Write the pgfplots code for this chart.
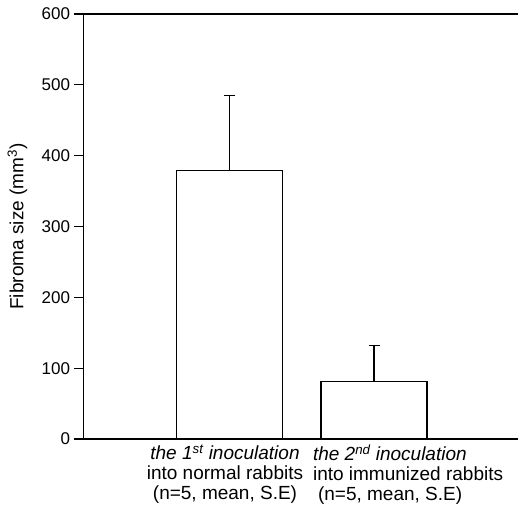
\documentclass[border=0pt]{standalone}
\usepackage{fontspec}
\setmainfont{Liberation Sans}
\usepackage{pgfplots}
\pgfplotsset{compat=1.18}

\begin{document}
\begin{tikzpicture}
\begin{axis}[
    name=ax,
    scale only axis,
    width=434.5pt, height=425pt,
    xmin=0, xmax=434.5,
    ymin=0, ymax=600,
    axis x line*=box,
    axis y line*=left,
    axis line style={line width=1.5pt},
    ytick={0,100,...,600},
    ytick align=outside,
    major tick length=9pt,
    ytick style={line width=1.1pt, black},
    xtick={141.5},
    xtick style={draw=none},
    xticklabels={
        {\textit{the 1\textsuperscript{st} inoculation}\\into normal rabbits\\(n=5{,} mean{,} S.E)}
    },
    extra x ticks={226},
    extra x tick labels={
        {\textit{the 2\textsuperscript{nd} inoculation}\\into immunized rabbits\\\hspace{5pt}(n=5{,} mean{,} S.E)}
    },
    extra x tick style={xtick style={draw=none},
        xticklabel style={anchor=north west, align=left}},
    xticklabel style={align=center, font=\fontsize{19}{20}\selectfont, yshift=-2pt},
    yticklabel style={font=\fontsize{17}{19}\selectfont, xshift=-1pt},
    /pgf/number format/assume math mode=true,
    ylabel={Fibroma size (mm\textsuperscript{3})},
    every axis y label/.style={at={(axis description cs:-0.152,0.5)}, rotate=90, anchor=center},
    label style={font=\fontsize{19}{22}\selectfont},
    clip=false,
]
\addplot[ybar, bar width=106, draw=black, fill=white, line width=1.4pt,
    error bars/.cd, y dir=plus, y explicit,
    error bar style={line width=1.5pt, black},
    error mark options={rotate=90, mark size=5.5pt, line width=1.5pt, black}]
    coordinates {
    (145.8, 379) +- (0, 106)
    (290.5, 81) +- (0, 51)
};
\end{axis}
\pgfresetboundingbox
\path (ax.south west) ++(-83.5pt,-77pt) rectangle ++(518pt,516pt);
\end{tikzpicture}
\end{document}
